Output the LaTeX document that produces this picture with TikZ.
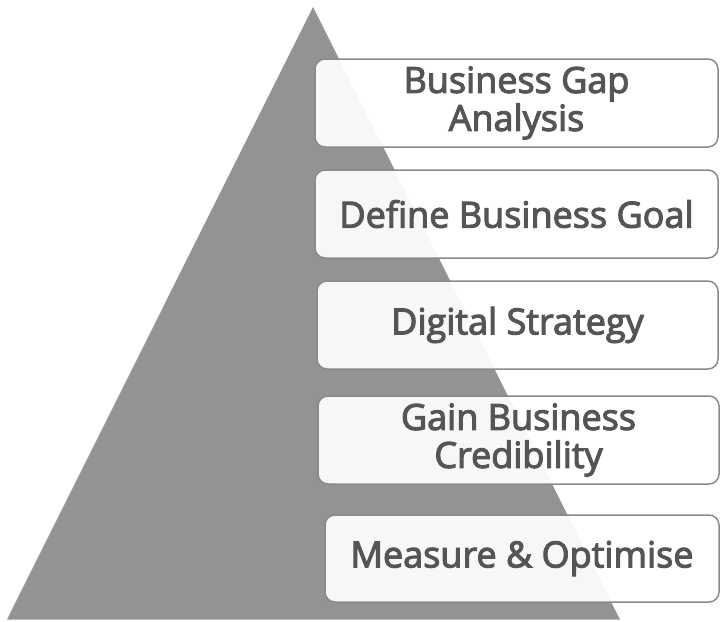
\documentclass[tikz,border=0pt]{standalone}
\usepackage{fontspec}
\setmainfont{Open Sans}
\newfontfamily\stagefont{Open Sans}[FakeBold=3]
\definecolor{pyramidgray}{HTML}{939396}
\definecolor{boxedge}{HTML}{8A8A8A}
\definecolor{labeltext}{HTML}{555555}
\begin{document}
\begin{tikzpicture}[x=1pt,y=-1pt,
  stage/.style={draw=boxedge, line width=1.5pt, rounded corners=10pt,
    fill=white, fill opacity=0.93, text opacity=1, text=labeltext,
    inner sep=0pt, align=center,
    font=\stagefont\fontsize{36}{38}\selectfont},
  ]
  \useasboundingbox (0,0) rectangle (720,621);
  % pyramid
  \fill[pyramidgray] (313,7) -- (620,619.5) -- (7,619.5) -- cycle;
  % stages, top to bottom
  \node[stage, minimum width=403pt, minimum height=88pt] (gap) at (516.5,103)
    {Business Gap\\Analysis};
  \node[stage, minimum width=403pt, minimum height=88pt] (goal) at (516.5,214)
    {Define Business Goal};
  \node[stage, minimum width=401pt, minimum height=88pt] (strategy) at (517.5,325)
    {Digital Strategy};
  \node[stage, minimum width=401pt, minimum height=88pt] (credibility) at (518.5,440)
    {Gain Business\\Credibility};
  \node[stage, minimum width=394pt, minimum height=87pt] (measure) at (522,558.5)
    {Measure \& Optimise};
\end{tikzpicture}
\end{document}
